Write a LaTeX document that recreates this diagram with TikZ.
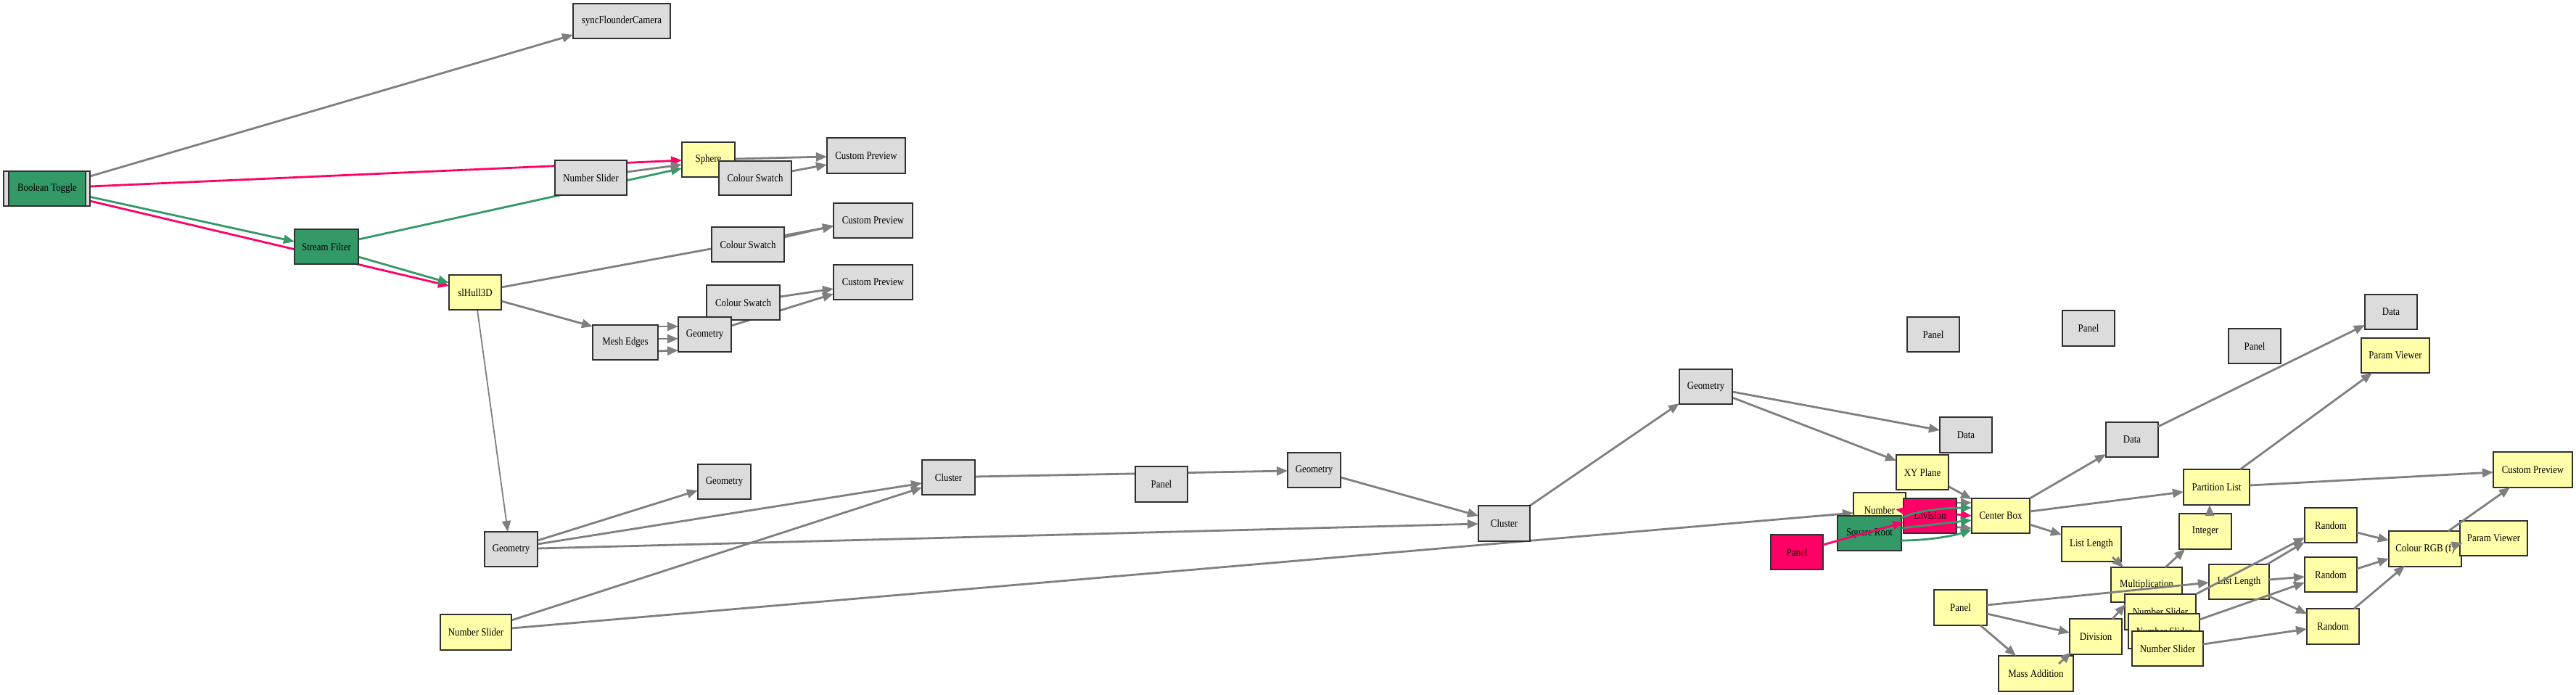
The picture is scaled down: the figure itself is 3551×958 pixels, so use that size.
\documentclass[tikz,border=0pt]{standalone}
\usepackage{fontspec}
\setmainfont{Liberation Serif}[FakeStretch=0.87]
\usetikzlibrary{arrows.meta,calc}
\definecolor{gfill}{HTML}{DCDCDC}
\definecolor{yfill}{HTML}{FFFFAA}
\definecolor{grfill}{HTML}{339966}
\definecolor{pfill}{HTML}{FF0066}
\definecolor{bcol}{HTML}{303030}
\definecolor{ecol}{HTML}{7F7F7F}
\pgfdeclarelayer{bg}
\pgfdeclarelayer{back}
\pgfsetlayers{bg,back,main}
\tikzset{
  box/.style={draw=bcol, line width=1pt, inner sep=0pt, outer sep=0pt, font=\fontsize{7.4pt}{8pt}\selectfont, text=black},
  gbox/.style={box, fill=gfill},
  ybox/.style={box, fill=yfill},
  grbox/.style={box, fill=grfill},
  pbox/.style={box, fill=pfill},
  eg/.style={draw=ecol, line width=1.4pt, -{Triangle[length=7.5pt,width=6pt]}},
  egthin/.style={eg, line width=0.9pt},
  ep/.style={eg, draw=pfill},
  egr/.style={eg, draw=grfill},
}
\newcommand\bx[7]{\node[#6, minimum width={(#4-#2)*0.5pt}, minimum height={(#5-#3)*0.5pt}] (#1) at ({(#2+#4)/2},{(#3+#5)/2}) {#7};}
\begin{document}
\begin{tikzpicture}[x=0.5pt,y=-0.5pt]
\begin{pgfonlayer}{bg}
\fill[white] (0,0) rectangle (3551,958);
\end{pgfonlayer}
\useasboundingbox (0,0) rectangle (3551,958);
% ---------- nodes ----------
\bx{btog}{5}{236}{124}{284}{gbox}{}
\bx{btogin}{12}{236}{118}{284}{grbox}{Boolean Toggle}
\bx{sync}{790}{5}{924}{53}{gbox}{syncFlounderCamera}
\bx{nsg}{765}{221}{864}{269}{gbox}{Number Slider}
\bx{sphere}{940}{196}{1013}{244}{ybox}{Sphere}
\bx{cs1}{991}{222}{1091}{269}{gbox}{Colour Swatch}
\bx{cp1}{1140}{190}{1248}{239}{gbox}{Custom Preview}
\bx{sf}{406}{316}{494}{364}{grbox}{Stream Filter}
\bx{hull}{619}{379}{691}{427}{ybox}{slHull3D}
\bx{cs2}{981}{313}{1081}{361}{gbox}{Colour Swatch}
\bx{cp2}{1149}{280}{1258}{328}{gbox}{Custom Preview}
\bx{cs3}{974}{393}{1075}{441}{gbox}{Colour Swatch}
\bx{cp3}{1149}{365}{1258}{413}{gbox}{Custom Preview}
\bx{me}{817}{448}{907}{496}{gbox}{Mesh Edges}
\bx{geom}{935}{437}{1008}{485}{gbox}{Geometry}
\bx{geobl}{668}{733}{741}{781}{gbox}{Geometry}
\bx{geos}{962}{640}{1035}{688}{gbox}{Geometry}
\bx{cl1}{1271}{634}{1344}{682}{gbox}{Cluster}
\bx{nsy}{607}{847}{705}{896}{ybox}{Number Slider}
\bx{pnlg}{1565}{643}{1637}{692}{gbox}{Panel}
\bx{geomid}{1775}{624}{1848}{672}{gbox}{Geometry}
\bx{cl2}{2038}{697}{2109}{746}{gbox}{Cluster}
\bx{geor}{2315}{509}{2388}{557}{gbox}{Geometry}
\bx{pt1}{2629}{437}{2701}{485}{gbox}{Panel}
\bx{pt2}{2843}{428}{2915}{477}{gbox}{Panel}
\bx{pt3}{3072}{453}{3144}{501}{gbox}{Panel}
\bx{data1}{2674}{575}{2746}{624}{gbox}{Data}
\bx{data2}{2903}{582}{2975}{630}{gbox}{Data}
\bx{data3}{3260}{406}{3332}{454}{gbox}{Data}
\bx{xy}{2614}{627}{2686}{675}{ybox}{XY Plane}
\bx{num}{2555}{679}{2627}{727}{ybox}{Number}
\bx{cb}{2718}{687}{2798}{735}{ybox}{Center Box}
% gray edges hidden behind Division
\draw[eg] ($(num.north west)+(72,14)$) -- ($(cb.north west)+(0,6)$);
\draw[eg] ($(num.north west)+(72,43)$) -- ($(cb.north west)+(0,41)$);
\bx{divp}{2624}{687}{2697}{735}{pbox}{Division}
\bx{sqr}{2533}{711}{2621}{759}{grbox}{Square Root}
\bx{pnlp}{2441}{737}{2513}{785}{pbox}{Panel}
\bx{ll1}{2842}{726}{2924}{774}{ybox}{List Length}
\bx{mult}{2910}{782}{3008}{830}{ybox}{Multiplication}
\bx{pnly}{2666}{813}{2739}{862}{ybox}{Panel}
\bx{divy}{2853}{853}{2925}{902}{ybox}{Division}
\bx{ma}{2755}{904}{2858}{953}{ybox}{Mass Addition}
\bx{pl}{3010}{647}{3101}{696}{ybox}{Partition List}
\bx{pv1}{3255}{466}{3349}{514}{ybox}{Param Viewer}
\bx{cpy}{3437}{623}{3546}{672}{ybox}{Custom Preview}
\bx{int}{3004}{708}{3076}{757}{ybox}{Integer}
\bx{r1}{3177}{700}{3249}{748}{ybox}{Random}
\bx{r2}{3177}{768}{3249}{816}{ybox}{Random}
\bx{r3}{3180}{839}{3252}{888}{ybox}{Random}
\bx{rgb}{3293}{732}{3393}{781}{ybox}{Colour RGB (f)}
\bx{pv2}{3391}{718}{3484}{766}{ybox}{Param Viewer}
\bx{ll2}{3045}{778}{3128}{826}{ybox}{List Length}
\bx{nsa}{2929}{819}{3027}{868}{ybox}{Number Slider}
\bx{nsb}{2934}{846}{3032}{894}{ybox}{Number Slider}
\bx{nsc}{2939}{870}{3037}{918}{ybox}{Number Slider}
% ---------- left edges, behind the nodes ----------
\begin{pgfonlayer}{back}
\draw[eg]  ($(btog.north west)+(119,7)$)  -- ($(sync.north west)+(0,43)$);
\draw[ep]  ($(btog.north west)+(119,21)$) -- ($(sphere.north west)+(0,25)$);
\draw[egr] ($(btogin.north west)+(106,34)$) -- ($(sf.north west)+(0,17)$);
\draw[ep]  ($(btog.north west)+(119,41)$) -- ($(hull.north west)+(0,15)$);
\draw[egr] ($(sf.north west)+(88,14)$) -- ($(sphere.north west)+(0,36)$);
\draw[eg]  ($(nsg.north west)+(99,16)$) -- ($(sphere.north west)+(0,31)$);
\draw[egr] ($(sf.north west)+(88,38)$) -- ($(hull.north west)+(0,11)$);
\draw[eg]  ($(hull.north west)+(72,17)$) -- ($(cp2.north west)+(0,32)$);
\draw[eg]  ($(cs2.north west)+(100,14)$) -- ($(cp2.north west)+(0,31)$);
\draw[eg]  ($(sphere.north west)+(73,23)$) -- ($(cp1.north west)+(0,26)$);
\draw[eg]  ($(cs1.north west)+(100,14)$) -- ($(cp1.north west)+(0,37)$);
\draw[eg]  ($(hull.north west)+(72,36)$) -- ($(me.north west)+(0,2)$);
\draw[eg]  ($(me.north west)+(90,2)$) -- ($(geom.north west)+(0,13)$);
\draw[eg]  ($(me.north west)+(90,19)$) -- ($(geom.north west)+(0,30)$);
\draw[eg]  ($(me.north west)+(90,36)$) -- ($(geom.north west)+(0,46)$);
\draw[eg]  ($(geom.north west)+(73,12)$) -- ($(cp3.north west)+(0,40)$);
\draw[eg]  ($(cs3.north west)+(101,16)$) -- ($(cp3.north west)+(0,33)$);
\draw[egthin] ($(hull.north west)+(39,48)$) -- ($(geobl.north west)+(32,0)$);
\draw[eg]  ($(geobl.north west)+(73,12)$) -- ($(geos.north west)+(0,36)$);
\draw[eg]  ($(geobl.north west)+(73,17)$) -- ($(cl1.north west)+(0,32)$);
\draw[eg]  ($(geobl.north west)+(73,23)$) -- ($(cl2.north west)+(0,25)$);
\draw[eg]  ($(nsy.north west)+(98,8)$) -- ($(cl1.north west)+(0,38)$);
\draw[eg]  ($(nsy.north west)+(98,19)$) -- ($(num.north west)+(0,28)$);
\draw[eg]  ($(cl1.north west)+(73,23)$) -- ($(geomid.north west)+(0,25)$);
\draw[eg]  ($(geomid.north west)+(73,34)$) -- ($(cl2.north west)+(0,14)$);
\draw[eg]  ($(cl2.north west)+(71,0)$) -- ($(geor.north west)+(0,47)$);
\draw[eg]  ($(geor.north west)+(73,31)$) -- ($(data1.north west)+(0,18)$);
\draw[eg]  ($(geor.north west)+(73,39)$) -- ($(xy.north west)+(0,8)$);
\draw[eg]  ($(xy.north west)+(71,43)$) -- ($(cb.north west)+(0,1)$);
\end{pgfonlayer}
% ---------- right edges, on top ----------
\draw[ep]  ($(pnlp.north west)+(72,14)$) -- ($(divp.north west)+(0,33)$);
\draw[ep]  ($(divp.north west)+(25,22)$) -- ($(num.north west)+(58,23)$);
\draw[ep]  ($(divp.north west)+(73,22)$) -- ($(cb.north west)+(0,24)$);
\draw[egr] ($(sqr.north west)+(88,3)$) .. controls ($(sqr.north west)+(107,-7)$) and ($(sqr.north west)+(147,-11)$) .. ($(cb.north west)+(0,13)$);
\draw[egr] ($(sqr.north west)+(88,17)$) -- ($(cb.north west)+(0,30)$);
\draw[egr] ($(sqr.north west)+(88,34)$) .. controls ($(sqr.north west)+(127,34)$) and ($(sqr.north west)+(162,27)$) .. ($(cb.north west)+(0,43)$);
\draw[eg]  ($(cb.north west)+(80,0)$) -- ($(data2.north west)+(0,44)$);
\draw[eg]  ($(cb.north west)+(80,18)$) -- ($(pl.north west)+(0,31)$);
\draw[eg]  ($(cb.north west)+(80,36)$) -- ($(ll1.north west)+(0,11)$);
\draw[eg]  ($(data2.north west)+(72,6)$) -- ($(data3.north west)+(0,42)$);
\draw[eg]  ($(pl.north west)+(78,0)$) -- ($(pv1.north west)+(15,48)$);
\draw[eg]  ($(pl.north west)+(91,22)$) -- ($(cpy.north west)+(0,28)$);
\draw[eg]  ($(int.north west)+(42,2)$) -- ($(pl.north west)+(36,49)$);
\draw[eg]  ($(ll1.north west)+(70,42)$) -- ($(mult.north west)+(17,0)$);
\draw[eg]  ($(mult.north west)+(75,0)$) -- ($(int.north west)+(8,49)$);
\draw[eg]  ($(pnly.north west)+(73,21)$) -- ($(ll2.north west)+(0,25)$);
\draw[eg]  ($(pnly.north west)+(73,33)$) -- ($(divy.north west)+(0,19)$);
\draw[eg]  ($(pnly.north west)+(64,49)$) -- ($(ma.north west)+(24,0)$);
\draw[eg]  ($(ma.north west)+(83,11)$) -- ($(divy.north west)+(2,46)$);
\draw[eg]  ($(divy.north west)+(59,0)$) -- ($(nsa.north west)+(1,14)$);
\draw[eg]  ($(nsa.north west)+(98,0)$) -- ($(r1.north west)+(0,41)$);
\draw[eg]  ($(ll2.north west)+(80,0)$) -- ($(r1.north west)+(0,47)$);
\draw[eg]  ($(ll2.north west)+(83,21)$) -- ($(r2.north west)+(0,27)$);
\draw[eg]  ($(nsb.north west)+(98,8)$) -- ($(r2.north west)+(0,35)$);
\draw[eg]  ($(ll2.north west)+(83,44)$) -- ($(r3.north west)+(0,7)$);
\draw[eg]  ($(nsc.north west)+(98,18)$) -- ($(r3.north west)+(0,28)$);
\draw[eg]  ($(r1.north west)+(72,34)$) -- ($(rgb.north west)+(0,13)$);
\draw[eg]  ($(r2.north west)+(72,16)$) -- ($(rgb.north west)+(0,38)$);
\draw[eg]  ($(r3.north west)+(65,0)$) -- ($(rgb.north west)+(22,48)$);
\draw[eg]  ($(rgb.north west)+(82,0)$) -- ($(cpy.north west)+(23,49)$);
\draw[eg]  ($(rgb.north west)+(87,21)$) -- ($(pv2.north west)+(4,30)$);
\end{tikzpicture}
\end{document}
